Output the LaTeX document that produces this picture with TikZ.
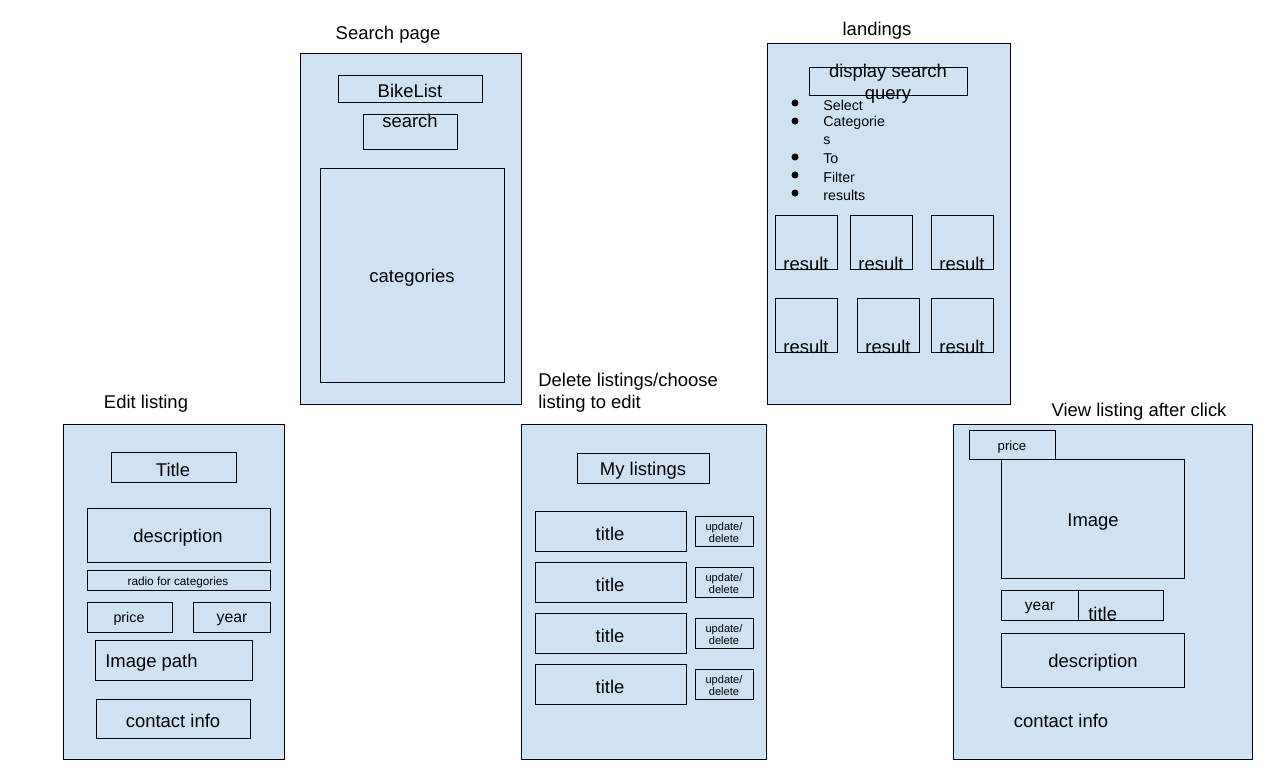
\documentclass[tikz,border=0pt]{standalone}
\usepackage{fontspec}
\setmainfont{Liberation Sans}
\definecolor{panelblue}{RGB}{207,226,243}

\begin{document}
\begin{tikzpicture}[x=0.02cm,y=-0.02cm,
  every node/.append style={yshift=-1.1pt},
  panel/.style={draw,fill=panelblue,line width=0.5pt},
  box/.style={draw,line width=0.5pt},
  lbl/.style={inner sep=0pt,font=\fontsize{10.5}{12.5}\selectfont},
  lblsm/.style={inner sep=0pt,font=\fontsize{8.1}{10}\selectfont},
  lbltiny/.style={inner sep=0pt,align=center,font=\fontsize{6.3}{6.8}\selectfont}]
  \useasboundingbox (0,0) rectangle (1270,774);

  % Search page.
  \draw[panel] (300,53) rectangle (521,404);
  \node[lbl] (searchpage) at (388,33) {Search page};
  \draw[box] (338,75) rectangle (482,102);
  \node[lbl] (bikelist) at (410,89) {BikeList};
  \draw[box] (363,114) rectangle (457,149);
  \node[lbl] (search) at (410,119) {search};
  \draw[box] (320,168) rectangle (504,382);
  \node[lbl] (categories) at (412,276) {categories};

  % Landings.
  \draw[panel] (767,43) rectangle (1010,404);
  \node[lbl] (landings) at (877,29) {landings};
  \draw[box] (809,67) rectangle (967,95);
  \node[lbl,align=center] (query) at (888,82) {display search\\query};
  \foreach \y/\txt [count=\i] in {103/Select,121/Categorie,139/s,157/To,175/Filter,193/results}{
    \node[lblsm,anchor=west] (item\i) at (823,\y) {\txt};
  }
  \foreach \y in {103,121,157,175,193}{
    \fill (795,\y) circle (2pt);
  }
  \foreach \x/\y [count=\i] in {775/215,850/215,931/215,775/298,857/298,931/298}{
    \draw[box] (\x,\y) rectangle ++(62,54);
    \node[lbl] (result\i) at ({\x+31},{\y+47}) {result};
  }

  % Edit listing.
  \draw[panel] (63,424) rectangle (284,759);
  \node[lbl] (editlisting) at (146,402) {Edit listing};
  \draw[box] (111,452) rectangle (236,482);
  \node[lbl] (edittitle) at (173,468) {Title};
  \draw[box] (87,508) rectangle (270,562);
  \node[lbl] (editdesc) at (178,536) {description};
  \draw[box] (87,570) rectangle (270,590);
  \node[inner sep=0pt,font=\fontsize{6.7}{8}\selectfont] (radio) at (178,581) {radio for categories};
  \draw[box] (87,602) rectangle (172,632);
  \node[lblsm] (editprice) at (129,617) {price};
  \draw[box] (193,602) rectangle (270,632);
  \node[inner sep=0pt,font=\fontsize{9}{11}\selectfont] (edityear) at (232,618) {year};
  \draw[box] (95,640) rectangle (252,680);
  \node[lbl,anchor=west] (imagepath) at (105,661) {Image path};
  \draw[box] (96,699) rectangle (250,738);
  \node[lbl] (editcontact) at (173,719) {contact info};

  % Delete listings / choose listing to edit.
  \draw[panel] (521,424) rectangle (766,759);
  \node[lbl,anchor=west,align=left] (deletelistings) at (538,391) {Delete listings/choose\\listing to edit};
  \draw[box] (577,453) rectangle (709,483);
  \node[lbl] (mylistings) at (643,469) {My listings};
  \foreach \y [count=\i] in {511,562,613,664}{
    \draw[box] (535,\y) rectangle ++(151,40);
    \node[lbl] (row\i) at (610,{\y+21}) {title};
    \draw[box] (695,{\y+5}) rectangle ++(58,30);
    \node[lbltiny] (update\i) at (724,{\y+20}) {update/\\delete};
  }

  % View listing after click.
  \draw[panel] (953,424) rectangle (1252,759);
  \node[lbl] (viewlisting) at (1139,410) {View listing after click};
  \draw[box] (969,430) rectangle (1055,459);
  \node[inner sep=0pt,font=\fontsize{7.5}{9}\selectfont] (viewprice) at (1012,445) {price};
  \draw[box] (1001,459) rectangle (1184,578);
  \node[lbl] (image) at (1093,520) {Image};
  \draw[box] (1001,590) rectangle (1078,620);
  \node[inner sep=0pt,font=\fontsize{8.8}{10}\selectfont] (viewyear) at (1040,606) {year};
  \draw[box] (1078,590) rectangle (1163,620);
  \node[lbl,anchor=west] (viewtitle) at (1088,612) {title};
  \draw[box] (1001,633) rectangle (1184,687);
  \node[lbl] (viewdesc) at (1093,661) {description};
  \node[lbl] (viewcontact) at (1061,719) {contact info};
\end{tikzpicture}
\end{document}
